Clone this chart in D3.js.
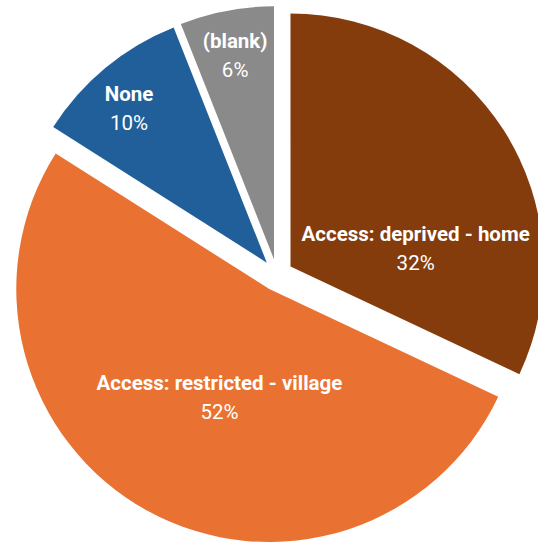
<!DOCTYPE html>
<html>
<head>
<meta charset="utf-8">
<script src="https://cdn.jsdelivr.net/npm/d3@7"></script>
<style>
  html, body { margin: 0; padding: 0; background: #fff; }
  #chart text { font-family: "Roboto", "Liberation Sans", sans-serif; fill: #fff; }
</style>
</head>
<body>
<div id="chart"></div>
<script>
// slices, clockwise from 12 o'clock
var categories = ['Access: deprived - home', 'Access: restricted - village', 'None', '(blank)'];
var shares = [32, 52, 10, 6];
var colours = ['#843C0C', '#E97132', '#215F9A', '#8A8A8A'];

var w = 538;
var h = 545;
var cx = 277;
var cy = 275;
var r = 253;
var explode = 16;

var data = categories.map((c, i) => ({ name: c, value: shares[i], colour: colours[i] }));

var svg = d3.select('#chart')
    .append('svg')
        .attr('width', w)
        .attr('height', h);

var pie = d3.pie()
    .value(d => d.value)
    .sort(null);

var arc = d3.arc()
    .innerRadius(0)
    .outerRadius(r);

var slices = pie(data);

function offset(d, dist) {
    var a = (d.startAngle + d.endAngle) / 2;
    return [Math.sin(a) * dist, -Math.cos(a) * dist];
}

var g = svg.append('g')
    .attr('transform', 'translate(' + cx + ',' + cy + ')');

g.selectAll('path')
    .data(slices)
    .enter()
    .append('path')
        .attr('d', arc)
        .attr('transform', d => 'translate(' + offset(d, explode) + ')')
        .style('fill', d => d.data.colour);

// label placement: small slices out near the rim, big ones further in
// (some labels are nudged round so they fit, as excel does)
var deg = Math.PI / 180;
var nudge = { 'Access: deprived - home': 24 * deg, 'Access: restricted - village': -4 * deg, 'None': -2 * deg };

function labelPos(d) {
    var o = offset(d, explode);
    var a = (d.startAngle + d.endAngle) / 2 + (nudge[d.data.name] || 0);
    var lr = d.data.value < 15 ? r * 0.82 : (d.data.value > 50 ? r * 0.47 : r * 0.5);
    return [o[0] + Math.sin(a) * lr, o[1] - Math.cos(a) * lr];
}

var labels = g.selectAll('text')
    .data(slices)
    .enter()
    .append('text')
        .attr('text-anchor', 'middle')
        .attr('transform', d => 'translate(' + labelPos(d) + ')')
        .style('font-size', '20.5px');

labels.append('tspan')
    .attr('x', 0)
    .attr('y', -7)
    .style('font-weight', 'bold')
    .text(d => d.data.name);

labels.append('tspan')
    .attr('x', 0)
    .attr('y', 22)
    .text(d => d.data.value + '%');
</script>
</body>
</html>
